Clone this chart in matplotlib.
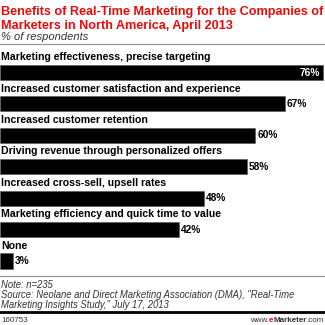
import matplotlib
matplotlib.use('Agg')
from matplotlib import pyplot as plt
from matplotlib.lines import Line2D

# --- Data
categories = [
    'Marketing effectiveness, precise targeting',
    'Increased customer satisfaction and experience',
    'Increased customer retention',
    'Driving revenue through personalized offers',
    'Increased cross-sell, upsell rates',
    'Marketing efficiency and quick time to value',
    'None',
]
values = [76, 67, 60, 58, 48, 42, 3]
value_labels = ['76%', '67%', '60%', '58%', '48%', '42%', '3%']

title_lines = ['Benefits of Real-Time Marketing for the Companies of',
               'Marketers in North America, April 2013']
subtitle = '% of respondents'
note_lines = ['Note: n=235',
              'Source: Neolane and Direct Marketing Association (DMA), "Real-Time',
              'Marketing Insights Study," July 17, 2013']
chart_id = '160753'

FONT = 'Liberation Sans'
RED = '#ea0a0a'
W = H = 325
fig = plt.figure(figsize=(3.25, 3.25), dpi=100)
fig.patch.set_facecolor('white')
renderer = fig.canvas.get_renderer()


def fy(px):
    # pixel row (from top) -> figure fraction
    return 1 - px / H


def fx(px):
    return px / W


def fit(t, width_px):
    # shrink / grow a text so it spans width_px
    w = t.get_window_extent(renderer).width
    t.set_fontsize(t.get_fontsize() * width_px / w)


# --- Header
t1 = fig.text(fx(1), fy(15), title_lines[0], color=RED, fontsize=9, fontweight='bold',
              family=FONT, va='baseline', ha='left')
fit(t1, 321)
fig.text(fx(1), fy(29), title_lines[1], color=RED, fontsize=t1.get_fontsize(),
         fontweight='bold', family=FONT, va='baseline', ha='left')
fig.text(fx(1), fy(39.5), subtitle, color='#333333', fontsize=8, style='italic',
         family=FONT, va='baseline', ha='left')
fig.add_artist(Line2D([0, 1], [fy(44), fy(44)], color='#999999', lw=0.9))

# --- Bars
top_px, bot_px = 50, 275
c0, step = 72.5, 31.42
ax = fig.add_axes([0, fy(bot_px), 1, (bot_px - top_px) / H])
ax.set_xlim(0, W / 4.25)
ax.set_ylim((bot_px - c0) / step, (top_px - c0) / step)
ax.set_axis_off()

ypos = list(range(len(values)))
ax.barh(ypos, values, height=0.48, color='black', edgecolor='#555555', lw=0.4)

for i, (cat, v, lab) in enumerate(zip(categories, values, value_labels)):
    ax.text(0.3, i - 0.49, cat, fontsize=7.6, fontweight='bold', family=FONT,
            va='center', ha='left', color='black')
    if v > 70:
        ax.text(v - 0.6, i, lab, fontsize=7.3, fontweight='bold', family=FONT,
                va='center', ha='right', color='white')
    else:
        ax.text(v + 0.5, i, lab, fontsize=7.3, fontweight='bold', family=FONT,
                va='center', ha='left', color='black')

# --- Footer
fig.add_artist(Line2D([0, 1], [fy(276), fy(276)], color='#999999', lw=0.9))
n1 = fig.text(fx(1), fy(298), note_lines[1], color='#333333', fontsize=6.5,
              style='italic', family=FONT, va='baseline', ha='left')
fit(n1, 294)
for k, y in [(0, 288), (2, 308)]:
    fig.text(fx(1), fy(y), note_lines[k], color='#333333', fontsize=n1.get_fontsize(),
             style='italic', family=FONT, va='baseline', ha='left')
fig.add_artist(Line2D([0, 1], [fy(311.5), fy(311.5)], color='black', lw=2))

fs = 5.8
yb = fy(322)
fig.text(fx(1), yb, chart_id, color='#333333', fontsize=fs, family=FONT,
         va='baseline', ha='left')
# www.eMarketer.com, right aligned, pieces laid out from the right
x = fx(324)
for txt, col, wt in [('.com', '#333333', 'normal'), ('Marketer', '#333333', 'bold'),
                     ('e', RED, 'bold'), ('www.', '#333333', 'normal')]:
    t = fig.text(x, yb, txt, color=col, fontsize=fs, fontweight=wt, family=FONT,
                 va='baseline', ha='right')
    x -= t.get_window_extent(renderer).width / W

fig.savefig('out.png', dpi=100, facecolor='white')
